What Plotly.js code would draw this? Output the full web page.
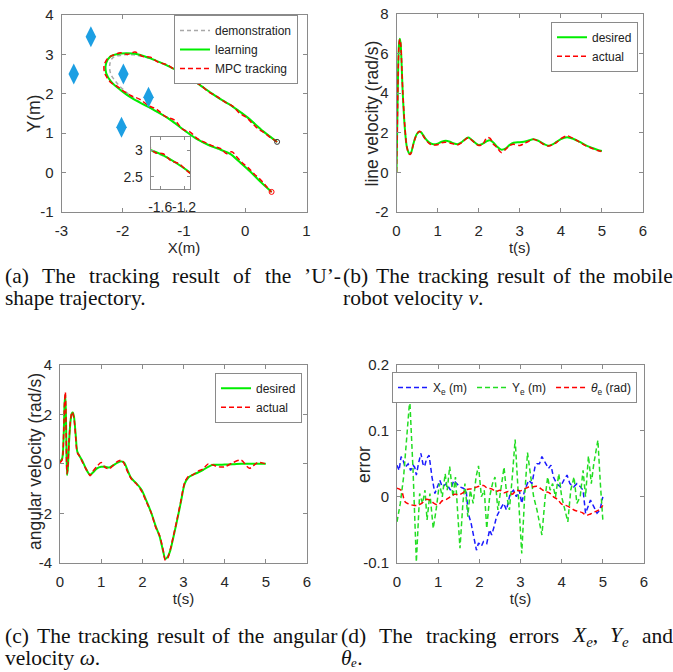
<!DOCTYPE html>
<html>
<head>
<meta charset="utf-8">
<script src="https://cdn.plot.ly/plotly-3.0.1.min.js"></script>
<style>html,body{margin:0;padding:0;background:#fff;}#plot{width:673px;height:672px;}</style>
</head>
<body>
<div id="plot"></div>
<script>
// ---------- (a) U-shape trajectory ----------
const learnX = [0.52,0.3,0.02,-0.2,-0.47,-0.74,-1.01,-1.28,-1.55,-1.83,-2.04,-2.2,-2.27,-2.27,-2.19,-2.04,-1.83,-1.55,-1.28,-1.0,-0.8,-0.6,-0.4,-0.25,-0.1,0.08,0.24,0.43];
const learnY = [0.78,1.04,1.42,1.67,1.93,2.22,2.5,2.72,2.9,3.02,3.02,2.95,2.78,2.52,2.31,2.1,1.87,1.64,1.4,1.08,0.86,0.7,0.58,0.48,0.28,0.03,-0.22,-0.49];
const demoX  = [0.52,0.3,0.02,-0.2,-0.47,-0.74,-1.01,-1.28,-1.55,-1.83,-2.02,-2.16,-2.21,-2.2,-2.12,-2.0,-1.81,-1.55,-1.28,-1.0,-0.8,-0.6,-0.4,-0.23,-0.08,0.09,0.25,0.43];
const demoY  = [0.78,1.04,1.42,1.67,1.93,2.22,2.5,2.72,2.89,2.99,2.98,2.92,2.76,2.52,2.32,2.12,1.88,1.64,1.4,1.08,0.86,0.7,0.57,0.45,0.26,0.02,-0.22,-0.49];
const mpcX = [0.52,0.42,0.32,0.22,0.12,0.02,-0.09,-0.2,-0.33,-0.47,-0.6,-0.74,-0.87,-1.01,-1.14,-1.28,-1.42,-1.55,-1.68,-1.8,-1.92,-2.04,-2.14,-2.23,-2.3,-2.3,-2.26,-2.19,-2.1,-1.98,-1.86,-1.72,-1.58,-1.44,-1.3,-1.16,-1.02,-0.9,-0.78,-0.65,-0.52,-0.4,-0.3,-0.22,-0.14,-0.05,0.05,0.15,0.25,0.35,0.43];
const mpcY = [0.78,0.88,1.0,1.1,1.24,1.40,1.50,1.68,1.79,1.94,2.05,2.23,2.34,2.49,2.6,2.74,2.8,2.93,2.95,3.06,3.0,3.04,2.99,2.92,2.75,2.55,2.42,2.28,2.2,2.06,1.95,1.86,1.7,1.6,1.42,1.34,1.1,1.03,0.86,0.76,0.67,0.61,0.48,0.53,0.4,0.25,0.12,-0.04,-0.18,-0.36,-0.5];
const obstX = [-2.52,-2.8,-1.99,-1.58,-2.02];
const obstY = [3.45,2.5,2.5,1.91,1.15];
const startX = [0.52], startY = [0.78];
const endX = [0.43], endY = [-0.49];

// ---------- (b) line velocity ----------
const tV = [0,0.02,0.04,0.06,0.08,0.1,0.12,0.15,0.2,0.25,0.3,0.33,0.36,0.4,0.45,0.5,0.55,0.6,0.65,0.7,0.8,0.9,1.0,1.1,1.2,1.3,1.4,1.5,1.6,1.7,1.75,1.8,1.9,2.0,2.1,2.2,2.28,2.35,2.45,2.55,2.65,2.75,2.85,3.0,3.1,3.2,3.33,3.45,3.6,3.7,3.8,3.9,4.0,4.15,4.3,4.45,4.6,4.75,4.9,5.0];
const vDesired = [0,2.6,5.2,6.45,6.75,6.5,5.7,4.1,2.3,1.3,0.98,0.93,1.02,1.35,1.72,1.95,2.05,2.02,1.88,1.72,1.5,1.42,1.45,1.55,1.6,1.55,1.46,1.43,1.55,1.72,1.76,1.7,1.52,1.38,1.45,1.58,1.62,1.52,1.3,1.15,1.2,1.38,1.5,1.52,1.55,1.6,1.67,1.6,1.42,1.35,1.42,1.55,1.68,1.78,1.7,1.55,1.38,1.25,1.13,1.08];
const vActual = [0,2.4,5.0,6.4,6.72,6.55,5.8,4.2,2.4,1.3,0.95,0.9,1.0,1.33,1.7,1.95,2.07,2.03,1.85,1.68,1.45,1.38,1.4,1.5,1.52,1.48,1.43,1.4,1.52,1.7,1.75,1.68,1.5,1.36,1.42,1.76,1.72,1.45,1.25,1.0,1.15,1.35,1.42,1.36,1.45,1.55,1.68,1.58,1.4,1.33,1.4,1.52,1.7,1.85,1.72,1.53,1.35,1.22,1.1,1.05];

// ---------- (c) angular velocity ----------
const tW = [0,0.05,0.09,0.11,0.13,0.15,0.17,0.19,0.22,0.26,0.29,0.31,0.34,0.38,0.42,0.48,0.55,0.63,0.7,0.73,0.8,0.9,1.0,1.1,1.2,1.3,1.4,1.5,1.56,1.65,1.73,1.85,1.98,2.1,2.22,2.32,2.42,2.5,2.56,2.62,2.68,2.75,2.83,2.93,3.03,3.12,3.22,3.35,3.48,3.6,3.72,3.85,4.0,4.2,4.4,4.6,4.8,5.0];
const wDesired = [0.1,0.2,1.2,2.4,2.8,1.4,-0.45,-0.2,0.9,1.8,2.05,2.08,1.9,1.2,0.5,0.3,0.1,-0.2,-0.4,-0.45,-0.35,-0.18,-0.12,-0.12,-0.15,-0.05,0.05,0.1,0.05,-0.3,-0.58,-0.78,-1.05,-1.5,-2.0,-2.5,-2.94,-3.5,-3.85,-3.75,-3.5,-3.0,-2.4,-1.6,-0.8,-0.55,-0.45,-0.35,-0.24,-0.12,-0.04,-0.04,-0.03,-0.02,0.0,0.0,0.0,0.0];
const wActual = [0.05,0.15,1.3,2.5,2.9,1.2,-0.4,-0.15,0.95,1.85,2.1,2.05,1.85,1.1,0.45,0.3,0.05,-0.2,-0.4,-0.48,-0.3,-0.1,0.05,-0.15,-0.2,-0.05,0.1,0.15,0.0,-0.35,-0.6,-0.8,-1.1,-1.55,-2.0,-2.55,-2.9,-3.45,-3.9,-3.8,-3.45,-2.95,-2.35,-1.55,-0.75,-0.5,-0.45,-0.3,-0.2,0.0,-0.05,-0.12,-0.12,0.05,0.15,-0.18,0.05,0.0];

// ---------- (d) tracking errors ----------
const tXe = [0,0.05,0.1,0.15,0.2,0.27,0.33,0.39,0.43,0.47,0.52,0.58,0.63,0.67,0.72,0.78,0.85,0.92,0.98,1.04,1.1,1.2,1.3,1.38,1.45,1.53,1.61,1.68,1.73,1.8,1.85,1.9,1.93,1.98,2.05,2.1,2.18,2.25,2.3,2.36,2.42,2.5,2.59,2.66,2.75,2.83,2.9,2.97,3.03,3.1,3.2,3.28,3.35,3.4,3.46,3.52,3.6,3.68,3.74,3.8,3.88,3.97,4.05,4.13,4.2,4.29,4.37,4.46,4.52,4.58,4.64,4.7,4.78,4.86,4.93,5.0];
const Xe = [0.048,0.04,0.061,0.055,0.045,0.05,0.04,0.048,0.045,0.033,0.05,0.066,0.05,0.046,0.058,0.063,0.03,0.005,0.015,0.025,0.015,0.02,0.01,0.025,0.02,0.015,0.013,0.01,-0.025,-0.04,-0.056,-0.07,-0.081,-0.07,-0.075,-0.068,-0.071,-0.05,-0.058,-0.045,-0.03,-0.02,-0.01,-0.02,0.005,0.01,0.0,0.01,-0.01,0.01,0.025,0.02,0.045,0.05,0.05,0.061,0.052,0.043,0.048,0.03,0.02,0.015,0.025,0.033,0.02,0.015,0.02,0.015,0.01,-0.025,-0.015,-0.005,-0.015,-0.025,-0.02,0.0];
const tYe = [0,0.08,0.16,0.24,0.31,0.39,0.47,0.55,0.62,0.68,0.73,0.80,0.88,0.95,1.03,1.10,1.17,1.22,1.28,1.36,1.42,1.47,1.53,1.60,1.65,1.72,1.78,1.85,1.92,1.98,2.05,2.12,2.18,2.25,2.32,2.38,2.45,2.52,2.60,2.67,2.73,2.80,2.87,2.95,3.03,3.10,3.17,3.25,3.32,3.40,3.47,3.52,3.60,3.66,3.72,3.78,3.85,3.93,4.00,4.07,4.15,4.22,4.30,4.37,4.45,4.52,4.58,4.65,4.72,4.78,4.88,4.94,5.00];
const Ye = [-0.038,-0.01,0.03,0.09,0.148,0.04,-0.099,0.005,-0.01,0.01,-0.035,0.005,-0.048,-0.02,0.02,0.0,0.035,0.01,0.046,0.0,0.03,-0.02,-0.078,-0.01,0.02,-0.03,0.01,-0.01,0.03,0.047,0.0,0.01,-0.048,0.0,0.02,0.03,-0.02,0.01,0.045,0.0,-0.02,0.03,0.087,0.0,-0.086,0.0,0.067,0.03,0.0,-0.02,-0.04,-0.058,0.0,0.03,0.01,0.02,0.0,0.035,0.0,-0.02,-0.038,0.01,0.03,-0.01,0.0,0.04,0.0,0.062,0.02,0.05,0.086,0.02,-0.035];
const tTh = [0,0.1,0.2,0.3,0.4,0.5,0.6,0.7,0.8,0.9,1.0,1.1,1.2,1.3,1.4,1.5,1.6,1.7,1.8,1.9,2.0,2.1,2.2,2.3,2.4,2.5,2.6,2.7,2.8,2.9,3.0,3.1,3.2,3.3,3.4,3.5,3.6,3.7,3.8,3.9,4.0,4.1,4.2,4.3,4.4,4.5,4.6,4.7,4.8,4.9,5.0];
const Th = [0.013,0.01,-0.008,-0.011,-0.013,-0.013,-0.01,-0.004,-0.005,-0.01,-0.012,-0.006,-0.004,0.0,0.004,0.003,0.006,0.011,0.012,0.014,0.016,0.017,0.013,0.012,0.008,0.01,0.006,0.008,0.004,0.01,0.009,0.012,0.015,0.015,0.016,0.012,0.008,0.006,0.0,-0.004,-0.011,-0.013,-0.016,-0.02,-0.022,-0.024,-0.028,-0.026,-0.023,-0.02,-0.013];

// ---------- tick labels ----------
const ticksAX = [-3,-2,-1,0,1], ticksAXText = ['-3','-2','-1','0','1'];
const ticksAY = [-1,0,1,2,3,4], ticksAYText = ['-1','0','1','2','3','4'];
const ticksT = [0,1,2,3,4,5,6], ticksTText = ['0','1','2','3','4','5','6'];
const ticksBY = [-2,0,2,4,6,8], ticksBYText = ['-2','0','2','4','6','8'];
const ticksCY = [-4,-2,0,2,4], ticksCYText = ['-4','-2','0','2','4'];
const ticksDY = [-0.1,0,0.1,0.2], ticksDYText = ['-0.1','0','0.1','0.2'];
const insetX = [-1.6,-1.2], insetXText = ['-1.6','-1.2'];
const insetY = [2.5,3], insetYText = ['2.5','3'];

// ---------- texts ----------
const yTitles = ['Y(m)', 'line velocity (rad/s)', 'angular velocity (rad/s)', 'error'];
const capA1 = ['(a)','The','tracking','result','of','the','\u2019U\u2019-'];
const capA2 = 'shape trajectory.';
const capB1 = ['(b)','The','tracking','result','of','the','mobile'];
const capB2 = 'robot velocity <i>v</i>.';
const capC1 = ['(c)','The','tracking','result','of','the','angular'];
const capC2 = 'velocity <i>\u03c9</i>.';
const capD1 = ['(d)','The','tracking','errors','<i>X<sub>e</sub></i>,','<i>Y<sub>e</sub></i>','and'];
const capD2 = '<i>\u03b8\u2091</i>.';

// ================= layout helpers =================
const W = 673, H = 672;
const px = v => v / W, py = v => 1 - v / H;
const SANS = "'Liberation Sans Narrow', 'Liberation Sans', Arial, sans-serif";
const SERIF = "'Liberation Serif', 'Times New Roman', 'DejaVu Serif', serif";
const CAP = 21.5;
const AXC = '#8a8a8a';
function ax(extra) {
  return Object.assign({
    showline: true, linecolor: AXC, linewidth: 1, mirror: 'ticks',
    ticks: 'inside', ticklen: 4, tickcolor: AXC, tickwidth: 1,
    showgrid: false, zeroline: false, fixedrange: true, tickangle: 0,
    tickfont: {family: SANS, size: 15, color: '#262626'}
  }, extra);
}
function xt(text, standoff) { return {text: text, font: {family: SANS, size: 15, color: '#262626'}, standoff: standoff}; }

const GREEN = '#00ee00', RED = '#ff0000', GRAY = '#a8a8a8', BLUE = '#1a1aff', DGREEN = '#22dd22';
const DASH = '5px,3px';

const traces = [
  {x: demoX, y: demoY, xaxis: 'x', yaxis: 'y', mode: 'lines', name: 'demonstration', legend: 'legend',
   line: {color: GRAY, width: 1.5, dash: '4px,3px', shape: 'spline', smoothing: 1}},
  {x: learnX, y: learnY, xaxis: 'x', yaxis: 'y', mode: 'lines', name: 'learning', legend: 'legend',
   line: {color: GREEN, width: 2, shape: 'spline', smoothing: 1}},
  {x: mpcX, y: mpcY, xaxis: 'x', yaxis: 'y', mode: 'lines', name: 'MPC tracking', legend: 'legend',
   line: {color: RED, width: 1.5, dash: DASH, shape: 'spline', smoothing: 1}},
  {x: obstX, y: obstY, xaxis: 'x', yaxis: 'y', mode: 'markers', showlegend: false, name: 'obstacles',
   marker: {symbol: 'diamond-tall', size: 15, color: '#1c9fe3'}},
  {x: startX, y: startY, xaxis: 'x', yaxis: 'y', mode: 'markers', showlegend: false,
   marker: {symbol: 'circle-open', size: 5, color: '#333', line: {width: 1}}},
  {x: endX, y: endY, xaxis: 'x', yaxis: 'y', mode: 'markers', showlegend: false,
   marker: {symbol: 'circle-open', size: 5, color: RED, line: {width: 1}}},
  // inset
  {x: demoX, y: demoY, xaxis: 'x5', yaxis: 'y5', mode: 'lines', showlegend: false,
   line: {color: GRAY, width: 1.5, dash: '4px,3px', shape: 'spline', smoothing: 1}},
  {x: learnX, y: learnY, xaxis: 'x5', yaxis: 'y5', mode: 'lines', showlegend: false,
   line: {color: GREEN, width: 2, shape: 'spline', smoothing: 1}},
  {x: mpcX, y: mpcY, xaxis: 'x5', yaxis: 'y5', mode: 'lines', showlegend: false,
   line: {color: RED, width: 1.5, dash: DASH, shape: 'spline', smoothing: 1}},
  // (b)
  {x: tV, y: vDesired, xaxis: 'x2', yaxis: 'y2', mode: 'lines', name: 'desired', legend: 'legend2',
   line: {color: GREEN, width: 2, shape: 'spline', smoothing: 0.8}},
  {x: tV, y: vActual, xaxis: 'x2', yaxis: 'y2', mode: 'lines', name: 'actual', legend: 'legend2',
   line: {color: RED, width: 1.5, dash: DASH, shape: 'spline', smoothing: 0.8}},
  // (c)
  {x: tW, y: wDesired, xaxis: 'x3', yaxis: 'y3', mode: 'lines', name: 'desired', legend: 'legend3',
   line: {color: GREEN, width: 2, shape: 'spline', smoothing: 0.8}},
  {x: tW, y: wActual, xaxis: 'x3', yaxis: 'y3', mode: 'lines', name: 'actual', legend: 'legend3',
   line: {color: RED, width: 1.5, dash: DASH, shape: 'spline', smoothing: 0.8}},
  // (d)
  {x: tXe, y: Xe, xaxis: 'x4', yaxis: 'y4', mode: 'lines', name: 'X<sub>e</sub> (m)', legend: 'legend4',
   line: {color: BLUE, width: 1.5, dash: DASH}},
  {x: tYe, y: Ye, xaxis: 'x4', yaxis: 'y4', mode: 'lines', name: 'Y<sub>e</sub> (m)', legend: 'legend4',
   line: {color: DGREEN, width: 1.5, dash: DASH}},
  {x: tTh, y: Th, xaxis: 'x4', yaxis: 'y4', mode: 'lines', name: '<i>\u03b8</i><sub>e</sub> (rad)', legend: 'legend4',
   line: {color: RED, width: 1.5, dash: DASH, shape: 'spline'}}
];

function legendBox(xr, yt, extra) {
  return Object.assign({
    x: px(xr), y: py(yt), xanchor: 'right', yanchor: 'top', xref: 'paper', yref: 'paper',
    bgcolor: '#ffffff', bordercolor: AXC, borderwidth: 1,
    font: {family: SANS, size: 12, color: '#222'}, tracegroupgap: 0, itemwidth: 30
  }, extra || {});
}

// text measuring for justified caption lines
const ctx = document.createElement('canvas').getContext('2d');
function measure(html, size) {
  const italic = html.indexOf('<i>') >= 0;
  let total = 0;
  html.split(/(<sub>.*?<\/sub>)/).forEach(p => {
    if (!p) return;
    const isSub = p.indexOf('<sub>') === 0;
    const t = p.replace(/<[^>]+>/g, '');
    ctx.font = (italic ? 'italic ' : '') + (isSub ? size * 0.7 : size) + "px 'Liberation Serif'";
    total += ctx.measureText(t).width;
  });
  return total;
}
const annotations = [];
function capText(text, x, y) {
  annotations.push({text: text, x: px(x), y: py(y), xref: 'paper', yref: 'paper',
    xanchor: 'left', yanchor: 'middle', showarrow: false, font: {family: SERIF, size: CAP, color: '#111'}});
}
function justify(list, x0, x1, y) {
  const ws = list.map(w => measure(w, CAP));
  const sum = ws.reduce((a, b) => a + b, 0);
  const gap = (x1 - x0 - sum) / (list.length - 1);
  let x = x0;
  list.forEach((w, i) => { capText(w, x, y); x += ws[i] + gap; });
}
justify(capA1, 3, 339, 276);
capText(capA2, 3, 298);
justify(capB1, 341, 671, 276);
capText(capB2, 341, 298);
justify(capC1, 3, 335, 636);
capText(capC2, 3, 658);
justify(capD1, 339, 671, 636);
capText(capD2, 339, 658);

// y-axis titles (rotated, placed tight to the tick labels as in the reference)
const yTitlePos = [[33, 113.5], [371, 113.5], [35, 462], [364, 465]];
yTitles.forEach((t, i) => annotations.push({text: t, x: px(yTitlePos[i][0]), y: py(yTitlePos[i][1]),
  xref: 'paper', yref: 'paper', textangle: -90, xanchor: 'center', yanchor: 'middle', showarrow: false,
  font: {family: SANS, size: 17.5, color: '#262626'}}));

const layout = {
  width: W, height: H, margin: {l: 0, r: 0, t: 0, b: 0},
  paper_bgcolor: '#ffffff', plot_bgcolor: '#ffffff', showlegend: true,
  font: {family: SANS},
  xaxis: ax({domain: [px(61.5), px(306.5)], range: [-3, 1], tickvals: ticksAX, ticktext: ticksAXText, anchor: 'y', ticklabelstandoff: 5,
    title: xt('X(m)', 4)}),
  yaxis: ax({domain: [py(212), py(15)], range: [-1, 4], tickvals: ticksAY, ticktext: ticksAYText, anchor: 'x', ticklabelstandoff: 4}),
  xaxis2: ax({domain: [px(396.5), px(643)], range: [0, 6], tickvals: ticksT, ticktext: ticksTText, anchor: 'y2', ticklabelstandoff: 5,
    title: xt('t(s)', 4)}),
  yaxis2: ax({domain: [py(212), py(14)], range: [-2, 8], tickvals: ticksBY, ticktext: ticksBYText, anchor: 'x2', ticklabelstandoff: 4}),
  xaxis3: ax({domain: [px(60), px(307)], range: [0, 6], tickvals: ticksT, ticktext: ticksTText, anchor: 'y3', ticklabelstandoff: 5,
    title: xt('t(s)', 4)}),
  yaxis3: ax({domain: [py(562.7), py(365)], range: [-4, 4], tickvals: ticksCY, ticktext: ticksCYText, anchor: 'x3', ticklabelstandoff: 4}),
  xaxis4: ax({domain: [px(397), px(644)], range: [0, 6], tickvals: ticksT, ticktext: ticksTText, anchor: 'y4', ticklabelstandoff: 5,
    title: xt('t(s)', 4)}),
  yaxis4: ax({domain: [py(562.7), py(365)], range: [-0.1, 0.2], tickvals: ticksDY, ticktext: ticksDYText, anchor: 'x4', ticklabelstandoff: 4}),
  xaxis5: ax({domain: [px(150.7), px(190)], range: [-1.76, -1.10], tickvals: insetX, ticktext: insetXText, anchor: 'y5', ticklabelstandoff: 5, ticklen: 3,
    tickfont: {family: SANS, size: 14, color: '#262626'}}),
  yaxis5: ax({domain: [py(189), py(136.7)], range: [2.27, 3.25], tickvals: insetY, ticktext: insetYText, anchor: 'x5', ticklabelstandoff: 4, ticklen: 3,
    tickfont: {family: SANS, size: 14, color: '#262626'}}),
  legend: legendBox(298, 15),
  legend2: legendBox(638, 21.7),
  legend3: legendBox(302, 372.7),
  legend4: legendBox(637, 372, {orientation: 'h', font: {family: SANS, size: 12, color: '#222'}}),
  annotations: annotations
};

Plotly.newPlot('plot', traces, layout, {displayModeBar: false, staticPlot: true});
</script>
</body>
</html>
